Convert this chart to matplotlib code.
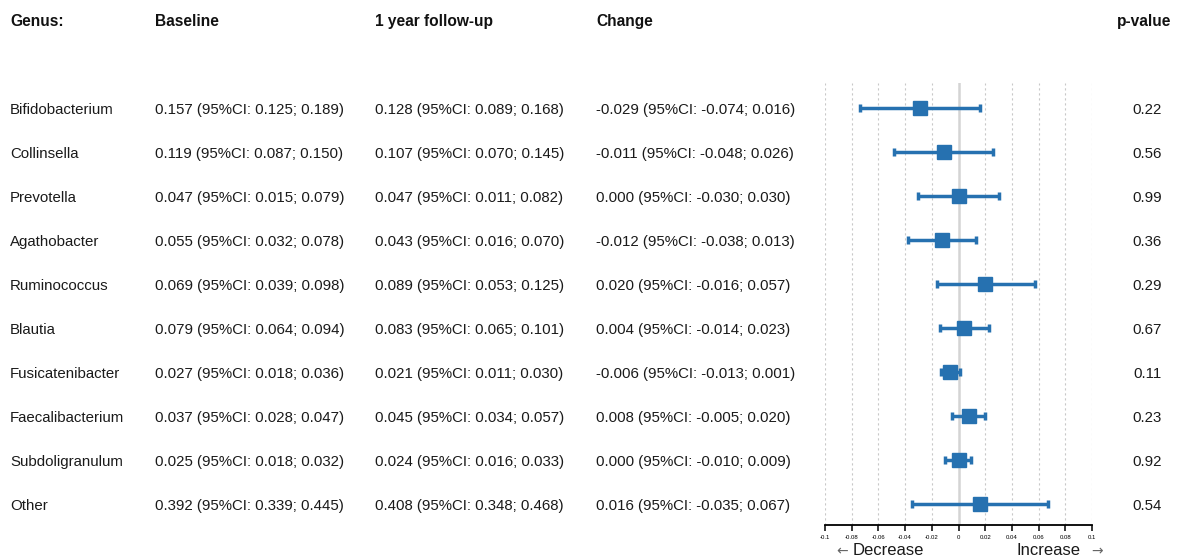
import matplotlib
matplotlib.use("Agg")
import matplotlib.pyplot as plt
import matplotlib.transforms as mtransforms
import numpy as np

plt.rcParams["font.family"] = ["Liberation Sans", "DejaVu Sans"]

genus = ["Bifidobacterium", "Collinsella", "Prevotella", "Agathobacter", "Ruminococcus",
         "Blautia", "Fusicatenibacter", "Faecalibacterium", "Subdoligranulum", "Other"]

base_mean = [0.157, 0.119, 0.047, 0.055, 0.069, 0.079, 0.027, 0.037, 0.025, 0.392]
base_lo = [0.125, 0.087, 0.015, 0.032, 0.039, 0.064, 0.018, 0.028, 0.018, 0.339]
base_hi = [0.189, 0.150, 0.079, 0.078, 0.098, 0.094, 0.036, 0.047, 0.032, 0.445]

fu_mean = [0.128, 0.107, 0.047, 0.043, 0.089, 0.083, 0.021, 0.045, 0.024, 0.408]
fu_lo = [0.089, 0.070, 0.011, 0.016, 0.053, 0.065, 0.011, 0.034, 0.016, 0.348]
fu_hi = [0.168, 0.145, 0.082, 0.070, 0.125, 0.101, 0.030, 0.057, 0.033, 0.468]

chg_mean = [-0.029, -0.011, 0.000, -0.012, 0.020, 0.004, -0.006, 0.008, 0.000, 0.016]
chg_lo = [-0.074, -0.048, -0.030, -0.038, -0.016, -0.014, -0.013, -0.005, -0.010, -0.035]
chg_hi = [0.016, 0.026, 0.030, 0.013, 0.057, 0.023, 0.001, 0.020, 0.009, 0.067]

p_values = ["0.22", "0.56", "0.99", "0.36", "0.29", "0.67", "0.11", "0.23", "0.92", "0.54"]

headers = ["Genus:", "Baseline", "1 year follow-up", "Change", "p-value"]
x_ticks = [-0.1, -0.08, -0.06, -0.04, -0.02, 0, 0.02, 0.04, 0.06, 0.08, 0.1]
x_tick_labels = ["-0.1", "-0.08", "-0.06", "-0.04", "-0.02", "0", "0.02", "0.04", "0.06", "0.08", "0.1"]

W, H = 1182, 557
fig = plt.figure(figsize=(W / 100, H / 100), dpi=100)

# forest panel placement (pixels)
ax_left, ax_right = 825, 1092
ax_top, ax_bottom = 83, 525
ax = fig.add_axes([ax_left / W, (H - ax_bottom) / H,
                   (ax_right - ax_left) / W, (ax_bottom - ax_top) / H])

n = len(genus)
rows = np.arange(n)
row_gap = 44.0
ax.set_xlim(-0.1, 0.1)
ax.set_ylim((ax_bottom - 108) / row_gap, (ax_top - 108) / row_gap)

blue = "#2671b0"
for xv in x_ticks:
    if xv == 0:
        ax.axvline(0, color="#d4d4d4", lw=1.8, zorder=1)
    else:
        ax.axvline(xv, color="#c8c8c8", lw=0.8, ls=(0, (2, 2.5)), zorder=1)

cm = np.array(chg_mean)
err = np.vstack([cm - np.array(chg_lo), np.array(chg_hi) - cm])
ax.errorbar(cm, rows, xerr=err, fmt="none", ecolor=blue, elinewidth=2.5,
            capsize=3.0, capthick=2.5, zorder=3)
ax.plot(cm, rows, ls="none", marker="s", ms=10.5, mfc=blue, mec=blue, zorder=4)

for s in ["top", "right", "left"]:
    ax.spines[s].set_visible(False)
ax.spines["bottom"].set_linewidth(1.3)
ax.set_yticks([])
ax.set_xticks(x_ticks)
ax.set_xticklabels(x_tick_labels, fontsize=4.3)
ax.tick_params(axis="x", direction="out", length=4, width=1.1, pad=3)

# table text
tr = mtransforms.blended_transform_factory(fig.transFigure, ax.transData)
col_x = [10 / W, 155 / W, 375 / W, 596 / W]
pval_x = 1147 / W

def ci_text(m, lo, hi):
    return f"{m:.3f} (95%CI: {lo:.3f}; {hi:.3f})"

fs = 10.8
txt_col = "#1a1a1a"
dy = 0.05
for i in range(n):
    y = i + dy
    ax.text(col_x[0], y, genus[i], transform=tr, fontsize=fs, va="center", ha="left", color=txt_col)
    ax.text(col_x[1], y, ci_text(base_mean[i], base_lo[i], base_hi[i]), transform=tr,
            fontsize=fs, va="center", ha="left", color=txt_col)
    ax.text(col_x[2], y, ci_text(fu_mean[i], fu_lo[i], fu_hi[i]), transform=tr,
            fontsize=fs, va="center", ha="left", color=txt_col)
    ax.text(col_x[3], y, ci_text(chg_mean[i], chg_lo[i], chg_hi[i]), transform=tr,
            fontsize=fs, va="center", ha="left", color=txt_col)
    ax.text(pval_x, y, p_values[i], transform=tr, fontsize=fs, va="center", ha="center", color=txt_col)

head_y = 1 - 26 / H
for x, h in zip(col_x, headers[:4]):
    fig.text(x, head_y, h, fontsize=11.2, fontweight="bold", va="baseline", ha="left", color="#111111")
fig.text(1144 / W, head_y, headers[4], fontsize=11.2, fontweight="bold", va="baseline", ha="center",
         color="#111111")

# direction labels below the axis
dir_y = 1 - 555 / H
fig.text(842 / W, dir_y, "\u2190", fontsize=10, color="#666666", va="baseline", ha="center",
         family=["DejaVu Sans"])
fig.text(853 / W, dir_y, "Decrease", fontsize=12, color="#1a1a1a", va="baseline", ha="left")
fig.text(1080 / W, dir_y, "Increase", fontsize=12, color="#1a1a1a", va="baseline", ha="right")
fig.text(1097 / W, dir_y, "\u2192", fontsize=10, color="#666666", va="baseline", ha="center",
         family=["DejaVu Sans"])

fig.savefig("out.png", dpi=100)
